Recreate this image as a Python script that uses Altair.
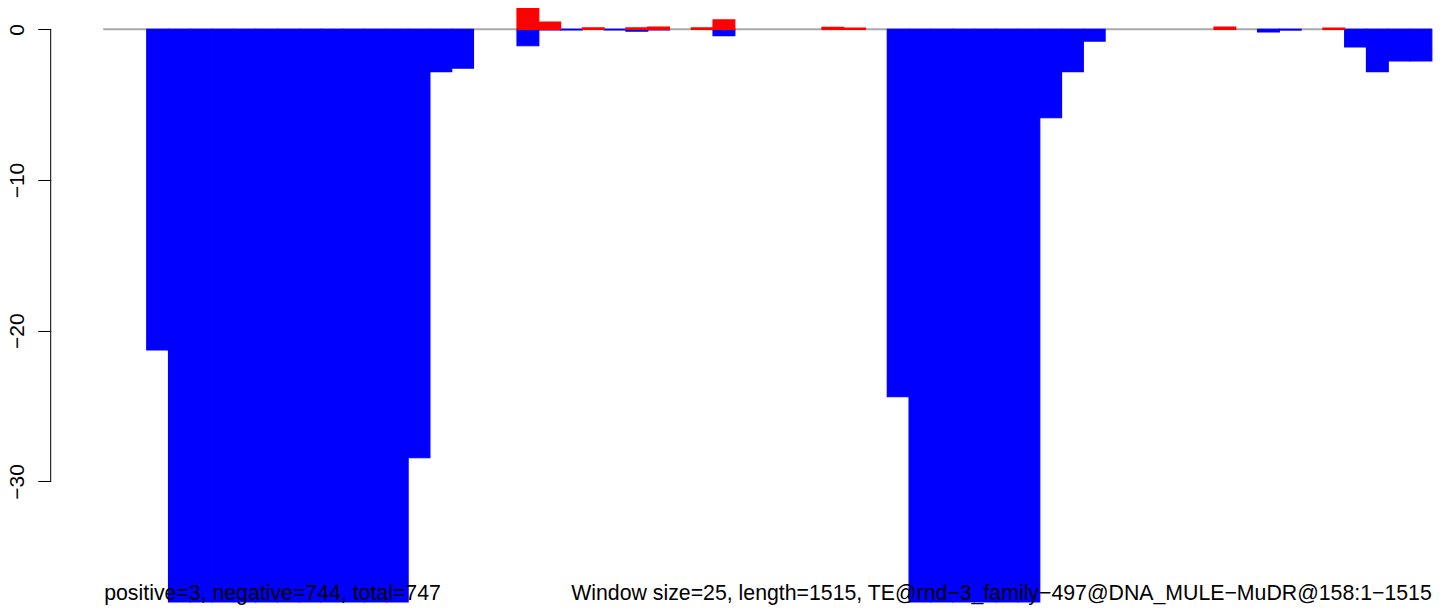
import altair as alt
import pandas as pd

# ---- data (window index -> value) ----
N_WINDOWS = 61
pos_idx = [19, 20, 22, 24, 25, 27, 28, 33, 34, 51, 56]
pos_val = [1.68, 0.48, 0.09, 0.09, 0.15, 0.09, 0.62, 0.13, 0.08, 0.15, 0.08]

neg_idx = [2, 3, 4, 5, 6, 7, 8, 9, 10, 11, 12, 13, 14, 15, 16,
           19, 20, 21, 23, 24, 25, 28,
           36, 37, 38, 39, 40, 41, 42, 43, 44, 45,
           53, 54, 57, 58, 59, 60]
neg_val = [-21.28, -38, -38, -38, -38, -38, -38, -38, -38, -38, -38, -38, -28.43, -2.81, -2.57,
           -1.09, -0.04, -0.04, -0.04, -0.12, -0.04, -0.42,
           -24.38, -38, -38, -38, -38, -38, -38, -5.87, -2.81, -0.78,
           -0.18, -0.05, -1.17, -2.81, -2.1, -2.1]

tick_values = [0, -10, -20, -30]
left_note = "positive=3, negative=744, total=747"
right_note = "Window size=25, length=1515, TE@rnd\u22123_family\u2212497@DNA_MULE\u2212MuDR@158:1\u22121515"

rows = []
for i, v in zip(neg_idx, neg_val):
    rows.append({"start": i, "end": i + 1, "value": v, "sign": "neg"})
for i, v in zip(pos_idx, pos_val):
    rows.append({"start": i, "end": i + 1, "value": v, "sign": "pos"})
bars_df = pd.DataFrame(rows)

FONT = "Liberation Sans"
YMIN, YMAX = -38, 1.4134

xscale = alt.Scale(domain=[0, N_WINDOWS], nice=False, zero=False)
yscale = alt.Scale(domain=[YMIN, YMAX], nice=False, zero=False)

base_df = pd.DataFrame({"x0": [0], "x1": [N_WINDOWS], "y": [0]})

zero_line = alt.Chart(base_df).mark_rule(color="#A9A9A9", strokeWidth=2).encode(
    x=alt.X("x0:Q", scale=xscale, axis=None),
    x2="x1:Q",
    y=alt.Y("y:Q", scale=yscale,
            axis=alt.Axis(values=tick_values, offset=52.5, domain=False, grid=False,
                          ticks=True, tickSize=13, tickColor="black", tickWidth=1,
                          labelAngle=270, labelAlign="center", labelBaseline="alphabetic",
                          labelPadding=14, labelFont=FONT, labelFontSize=21,
                          labelColor="black", title=None)),
)

color_enc = alt.Color("sign:N", scale=alt.Scale(domain=["neg", "pos"], range=["#0000FF", "#FF0000"]),
                      legend=None)

bars = alt.Chart(bars_df).mark_rect(clip=False, strokeWidth=1.2).encode(
    x=alt.X("start:Q", scale=xscale, axis=None),
    x2="end:Q",
    y=alt.Y("value:Q", scale=yscale),
    y2=alt.datum(0),
    color=color_enc,
    stroke=color_enc,
)

axis_line = alt.Chart(base_df).mark_rule(color="black", strokeWidth=1).encode(
    x=alt.value(-52.5),
    y=alt.datum(tick_values[0], scale=yscale),
    y2=alt.datum(tick_values[-1]),
)

txt_left = alt.Chart(base_df).mark_text(
    text=left_note, font=FONT, fontSize=21.3, align="left", baseline="alphabetic", color="black"
).encode(x=alt.value(1), y=alt.value(592))

txt_right = alt.Chart(base_df).mark_text(
    text=right_note, font=FONT, fontSize=21.3, align="right", baseline="alphabetic", color="black"
).encode(x=alt.value(1328.6), y=alt.value(592))

chart = alt.layer(zero_line, bars, axis_line, txt_left, txt_right).properties(
    width=1328.6,
    height=594,
    padding={"left": 95.2, "top": 0, "right": 4, "bottom": 3},
    autosize="none",
    background="white",
).configure_view(stroke=None)

chart.save("out.html", embed_options={"renderer": "svg", "actions": False})
